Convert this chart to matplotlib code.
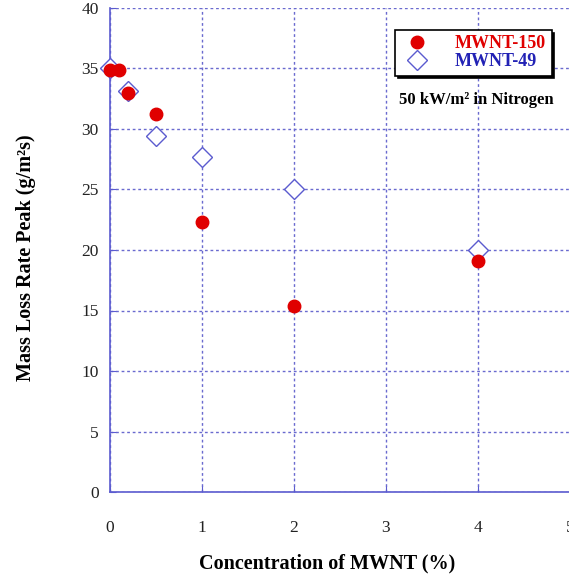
import matplotlib
matplotlib.use("Agg")
import matplotlib.pyplot as plt

# data
x150 = [0.0, 0.1, 0.2, 0.5, 1.0, 2.0, 4.0]
y150 = [34.9, 34.9, 33.0, 31.2, 22.3, 15.4, 19.1]
x49 = [0.0, 0.2, 0.5, 1.0, 2.0, 4.0]
y49 = [35.0, 33.1, 29.4, 27.7, 25.0, 20.0]
xticks = [0, 1, 2, 3, 4, 5]
yticks = [0, 5, 10, 15, 20, 25, 30, 35, 40]

RED = "#e00000"
BLUE = "#5b5bcf"
GRID = "#6a6acf"

plt.rcParams["font.family"] = ["Liberation Serif", "DejaVu Serif"]

fig = plt.figure(figsize=(5.69, 5.77), dpi=100)
ax = fig.add_axes([110 / 569, 85 / 577, 460 / 569, 484 / 577])

ax.plot(x49, y49, "D", ms=10, mfc="white", mec=BLUE, mew=1.0,
        ls="none", label="MWNT-49", zorder=3, clip_on=False)
ax.plot(x150, y150, "o", ms=9, color=RED, ls="none",
        label="MWNT-150", zorder=4, clip_on=False)

ax.set_xlim(0, 5)
ax.set_ylim(0, 40)
ax.set_xticks(xticks)
ax.set_yticks(yticks)
ax.grid(True, color=GRID, ls=(0, (2, 2)), lw=1.0)
for s in ("top", "right"):
    ax.spines[s].set_visible(False)
for s in ("left", "bottom"):
    ax.spines[s].set_color(BLUE)
    ax.spines[s].set_linewidth(1.2)
ax.tick_params(axis="both", direction="in", length=4, color=BLUE,
               labelsize=12.5, labelcolor="#222222")
ax.tick_params(axis="x", pad=20)
ax.tick_params(axis="y", pad=8)

ax.set_xlabel("Concentration of MWNT (%)", fontsize=14.5, fontweight="bold")
ax.set_ylabel("Mass Loss Rate Peak (g/m²s)", fontsize=14.5,
              fontweight="bold")
ax.xaxis.set_label_coords((327 - 110) / 460, -0.128)
ax.yaxis.set_label_coords(-0.16, (492 - 258) / 484)

h, l = ax.get_legend_handles_labels()
leg = ax.legend(h[::-1], l[::-1], loc="upper right",
                bbox_to_anchor=(0.96, 0.955), frameon=True, fancybox=False,
                shadow={"color": "black", "alpha": 1.0, "ox": 2, "oy": -2},
                prop={"weight": "bold", "size": 13}, handletextpad=1.2,
                handlelength=1.8, borderpad=0.3, labelspacing=0.05,
                borderaxespad=0.0)
leg.get_frame().set_edgecolor("black")
leg.get_frame().set_linewidth(1.2)
for txt, c in zip(leg.get_texts(), [RED, "#2222b5"]):
    txt.set_color(c)

ax.text(0.965, 0.81, "50 kW/m² in Nitrogen", transform=ax.transAxes,
        ha="right", va="center", fontsize=12, fontweight="bold")

fig.savefig("out.png", dpi=100)
